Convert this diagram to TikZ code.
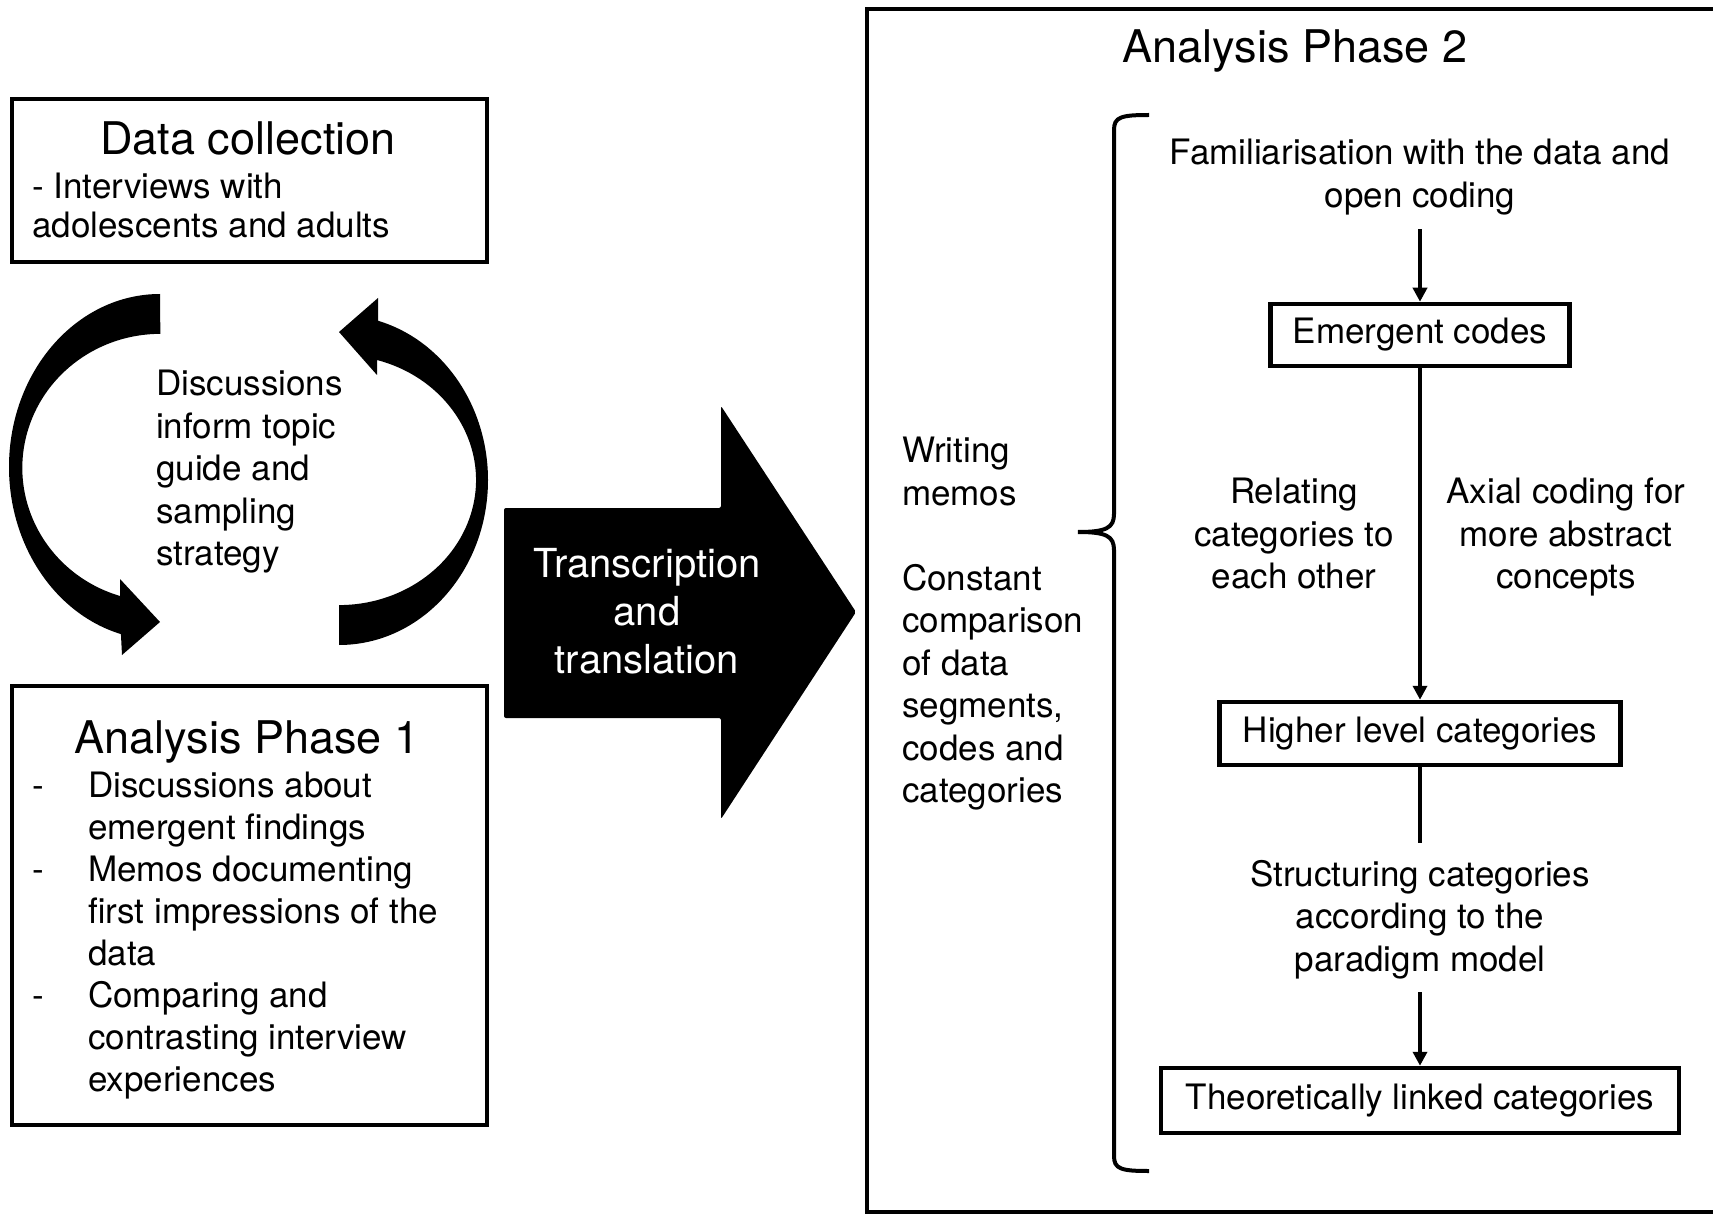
\documentclass[tikz,border=0pt]{standalone}
\usepackage{fontspec}
\setmainfont{TeX Gyre Heros}
\usetikzlibrary{arrows.meta, positioning}

\newcommand{\bodyfont}{\fontsize{35}{42.5}\selectfont}
\newcommand{\headfont}{\fontsize{45}{54}\selectfont}
\newcommand{\arrowfont}{\fontsize{40}{48}\selectfont}

\begin{document}
\begin{tikzpicture}[
    x=1pt, y=1pt,
    panel/.style={draw, line width=4.5pt, inner sep=0pt},
    stagebox/.style={draw, line width=4.5pt, inner sep=0pt, font=\bodyfont},
    heading/.style={inner sep=0pt, font=\headfont},
    body/.style={inner sep=0pt, font=\bodyfont, align=left},
    note/.style={inner sep=0pt, font=\bodyfont, align=center},
    flow/.style={line width=4pt, -{Triangle[length=14pt, width=14pt]}},
    link/.style={line width=4pt},
    bendarrow/.style={fill=black}
]
\useasboundingbox (0,0) rectangle (1713,-1214);

% left column
\node[panel, minimum width=475pt, minimum height=163pt] (collect) at (249.5,-180.5) {};
\node[heading, anchor=north] (collecttitle) at (248,-121) {Data collection};
\node[body, anchor=north west, font=\fontsize{35}{39}\selectfont] (collecttext) at (32,-173) {- Interviews with\\adolescents and adults};

\node[panel, minimum width=475pt, minimum height=439pt] (phaseone) at (249.5,-905.5) {};
\node[heading, anchor=north] (phaseonetitle) at (247,-720) {Analysis Phase 1};
\node[body, anchor=north west, font=\fontsize{35}{41.9}\selectfont] (phaseonetext) at (32,-772) {%
  \makebox[56pt][l]{-}Discussions about\\
  \hspace*{56pt}emergent findings\\
  \makebox[56pt][l]{-}Memos documenting\\
  \hspace*{56pt}first impressions of the\\
  \hspace*{56pt}data\\
  \makebox[56pt][l]{-}Comparing and\\
  \hspace*{56pt}contrasting interview\\
  \hspace*{56pt}experiences};

% feedback loop between the two boxes
\node[body, anchor=north west] (loopnote) at (156,-370) {Discussions\\inform topic\\guide and\\sampling\\strategy};
\fill[bendarrow] (160,-294) arc[start angle=90, end angle=255, x radius=151, y radius=173]
  -- (122,-655) -- (160,-622) -- (120,-579)
  -- (120,-596) arc[start angle=253, end angle=90, x radius=138, y radius=134] -- cycle;
\fill[bendarrow] (339,-645) arc[start angle=-90, end angle=74.8, x radius=149, y radius=165]
  -- (378,-298) -- (339,-332) -- (377,-375)
  -- (377,-360) arc[start angle=73.9, end angle=-90, x radius=137, y radius=125] -- cycle;

% big arrow
\fill[bendarrow, rounded corners=2pt] (504,-508) -- (721,-508) -- (721,-406) -- (856,-612)
  -- (721,-819) -- (721,-718) -- (504,-718) -- cycle;
\node[note, text=white, font=\arrowfont, anchor=north] (transcribe) at (647,-548) {Transcription\\and\\translation};

% right panel
\node[panel, minimum width=893pt, minimum height=1203pt] (phasetwo) at (1313.5,-610.5) {};
\node[heading, anchor=north] (phasetwotitle) at (1295,-29) {Analysis Phase 2};
\node[body, anchor=north west] (memos) at (902,-437) {Writing\\memos\\[42.5pt]Constant\\comparison\\of data\\segments,\\codes and\\categories};
\draw[line width=4pt] (1149,-115) .. controls (1121,-115) and (1114,-117) .. (1114,-130)
  -- (1114,-514) .. controls (1114,-528) and (1106,-532) .. (1078,-532)
  .. controls (1106,-532) and (1114,-536) .. (1114,-550)
  -- (1114,-1156) .. controls (1114,-1169) and (1121,-1171) .. (1149,-1171);

\node[note, anchor=north] (familiar) at (1420,-139) {Familiarisation with the data and\\open coding};
\node[stagebox, minimum width=299pt, minimum height=62pt] (emergent) at (1420,-335) {Emergent codes};
\node[stagebox, minimum width=401pt, minimum height=63pt, below=331.5pt of emergent] (higher) {Higher level categories};
\node[stagebox, minimum width=518pt, minimum height=65pt, below=298.5pt of higher] (linked) {Theoretically linked categories};
\node[note, anchor=north] (relating) at (1294,-478) {Relating\\categories to\\each other};
\node[note, anchor=north] (axial) at (1566,-478) {Axial coding for\\more abstract\\concepts};
\node[note, anchor=north] (structuring) at (1420,-860) {Structuring categories\\according to the\\paradigm model};

\draw[flow, shorten <=14pt] (familiar) -- (emergent);
\draw[flow] (emergent) -- (higher);
\draw[link, shorten >=17pt] (higher) -- (structuring);
\draw[flow, shorten <=13pt] (structuring) -- (linked);

\end{tikzpicture}
\end{document}
